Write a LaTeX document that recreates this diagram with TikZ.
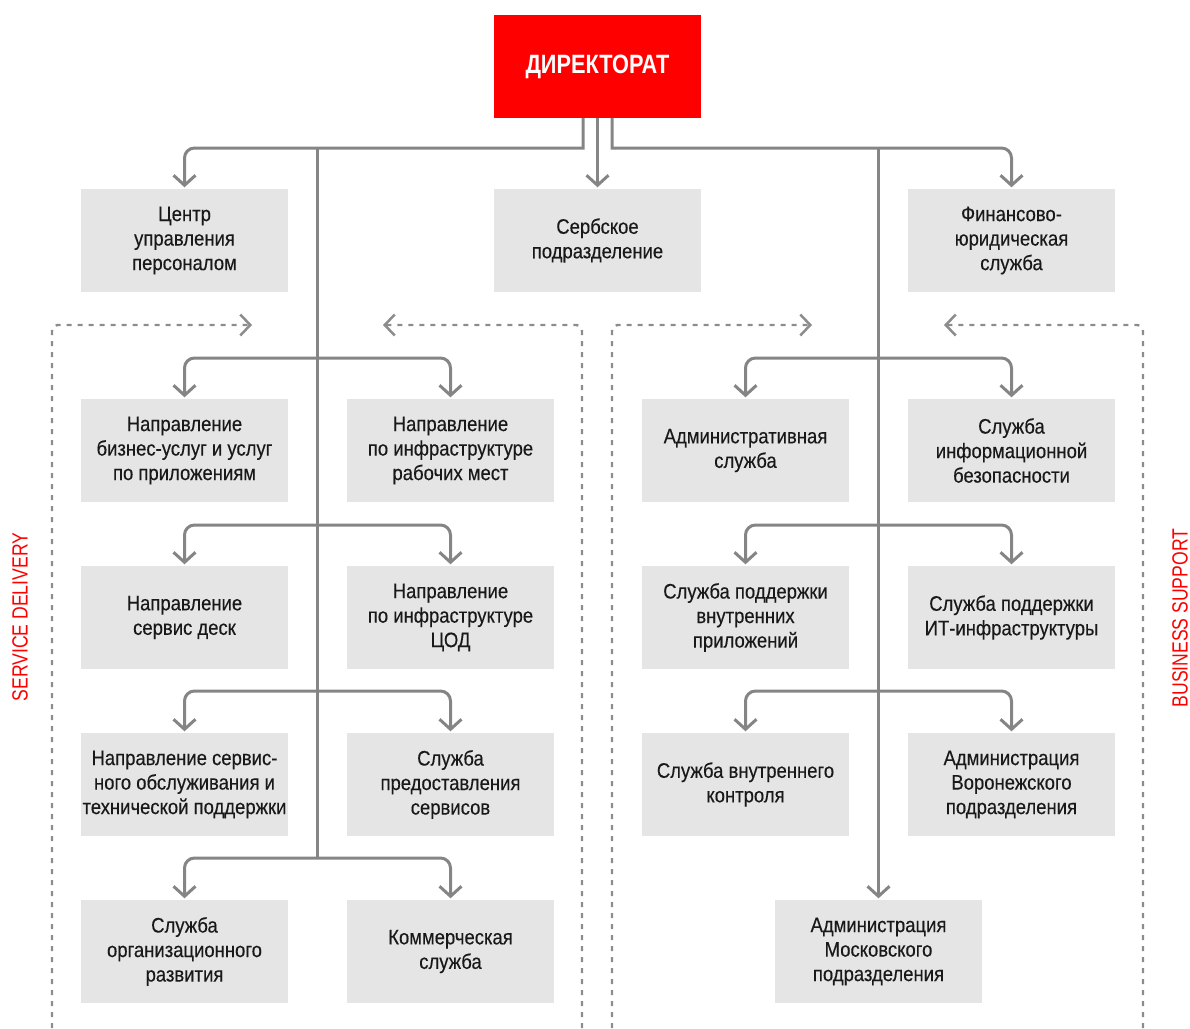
\documentclass[tikz,border=0pt]{standalone}
\usepackage{fontspec}
\setmainfont{Liberation Sans}[FakeStretch=0.88, FakeBold=0.3]
\newfontfamily\headfont{Liberation Sans}[FakeStretch=0.82]
\newfontfamily\sidefont{Liberation Sans}[FakeStretch=0.8]
\usetikzlibrary{arrows.meta}
\definecolor{boxgray}{HTML}{E5E5E5}
\definecolor{linegray}{HTML}{858585}
\definecolor{dashgray}{HTML}{8C8C8C}
\definecolor{dred}{HTML}{FF0000}
\tikzset{
  unit/.style={fill=boxgray, minimum width=207pt, minimum height=103pt, inner sep=0pt,
    align=center, font=\fontsize{21}{24.5}\selectfont, text=black!90},
  conn/.style={draw=linegray, line width=3pt, rounded corners=10pt},
  chev/.style={-{Straight Barb[length=10pt, width=22pt]}, shorten >=1.5pt},
  dashline/.style={draw=dashgray, line width=2.4pt, dash pattern=on 5pt off 6pt, rounded corners=6pt},
  dchev/.style={-{Straight Barb[length=10pt, width=21pt, line width=2.5pt]}},
  sidelabel/.style={text=dred, rotate=90, font=\sidefont\fontsize{22}{24}\selectfont}
}
\begin{document}
\begin{tikzpicture}[x=1pt, y=-1pt]
\useasboundingbox (0,0) rectangle (1190,1028);
% director
\node[fill=dred, minimum width=207pt, minimum height=103pt, inner sep=0pt, text=white,
  font=\headfont\fontsize{26.5}{30}\selectfont\bfseries] (dir) at (597.5,66.5) {ДИРЕКТОРАТ};
% row 1
\node[unit] (c1) at (184.5,240.5) {Центр\\управления\\персоналом};
\node[unit] (c2) at (597.5,240.5) {Сербское\\подразделение};
\node[unit] (c3) at (1011.5,240.5) {Финансово-\\юридическая\\служба};
% left group
\node[unit] (a1) at (184.5,450.5) {Направление\\бизнес-услуг и услуг\\по приложениям};
\node[unit] (a2) at (450.5,450.5) {Направление\\по инфраструктуре\\рабочих мест};
\node[unit] (a3) at (184.5,617.5) {Направление\\сервис деск};
\node[unit] (a4) at (450.5,617.5) {Направление\\по инфраструктуре\\ЦОД};
\node[unit] (a5) at (184.5,784.5) {Направление сервис-\\ного обслуживания и\\технической поддержки};
\node[unit] (a6) at (450.5,784.5) {Служба\\предоставления\\сервисов};
\node[unit] (a7) at (184.5,951.5) {Служба\\организационного\\развития};
\node[unit] (a8) at (450.5,951.5) {Коммерческая\\служба};
% right group
\node[unit] (b1) at (745.5,450.5) {Административная\\служба};
\node[unit] (b2) at (1011.5,450.5) {Служба\\информационной\\безопасности};
\node[unit] (b3) at (745.5,617.5) {Служба поддержки\\внутренних\\приложений};
\node[unit] (b4) at (1011.5,617.5) {Служба поддержки\\ИТ-инфраструктуры};
\node[unit] (b5) at (745.5,784.5) {Служба внутреннего\\контроля};
\node[unit] (b6) at (1011.5,784.5) {Администрация\\Воронежского\\подразделения};
\node[unit] (b7) at (878.5,951.5) {Администрация\\Московского\\подразделения};
% junctions
\coordinate (jL) at (583,148);
\coordinate (jR) at (612,148);
\coordinate (tLtop) at (317,148);
\coordinate (tLbot) at (317,858);
\coordinate (tRtop) at (878.5,148);
\coordinate (tL1) at (317,358);
\coordinate (tL2) at (317,525);
\coordinate (tL3) at (317,691);
\coordinate (tR1) at (878.5,358);
\coordinate (tR2) at (878.5,525);
\coordinate (tR3) at (878.5,691);
% connectors from director
\draw[conn, chev] (dir.south -| jL) [sharp corners] -- (jL) [rounded corners=10pt] -| (c1.north);
\draw[conn, chev] (dir.south) -- (c2.north);
\draw[conn, chev] (dir.south -| jR) [sharp corners] -- (jR) [rounded corners=10pt] -| (c3.north);
% trunks
\draw[conn] (tLtop) -- (tLbot);
\draw[conn, chev] (tRtop) -- (b7.north);
% left branches
\draw[conn, chev] (tL1) -| (a1.north);
\draw[conn, chev] (tL1) -| (a2.north);
\draw[conn, chev] (tL2) -| (a3.north);
\draw[conn, chev] (tL2) -| (a4.north);
\draw[conn, chev] (tL3) -| (a5.north);
\draw[conn, chev] (tL3) -| (a6.north);
\draw[conn, chev] (tLbot) -| (a7.north);
\draw[conn, chev] (tLbot) -| (a8.north);
% right branches
\draw[conn, chev] (tR1) -| (b1.north);
\draw[conn, chev] (tR1) -| (b2.north);
\draw[conn, chev] (tR2) -| (b3.north);
\draw[conn, chev] (tR2) -| (b4.north);
\draw[conn, chev] (tR3) -| (b5.north);
\draw[conn, chev] (tR3) -| (b6.north);
% dashed group brackets
\coordinate (d1) at (52,1028);
\coordinate (d1e) at (252,325);
\coordinate (d2) at (582,1028);
\coordinate (d2e) at (383,325);
\coordinate (d3) at (612,1028);
\coordinate (d3e) at (812,325);
\coordinate (d4) at (1143,1028);
\coordinate (d4e) at (944,325);
\draw[dashline, dchev] (d1) |- (d1e);
\draw[dashline, dchev] (d2) |- (d2e);
\draw[dashline, dchev] (d3) |- (d3e);
\draw[dashline, dchev] (d4) |- (d4e);
% side labels
\node[sidelabel] (sd) at (20,617) {SERVICE DELIVERY};
\node[sidelabel] (bs) at (1180,618) {BUSINESS SUPPORT};
\end{tikzpicture}
\end{document}
